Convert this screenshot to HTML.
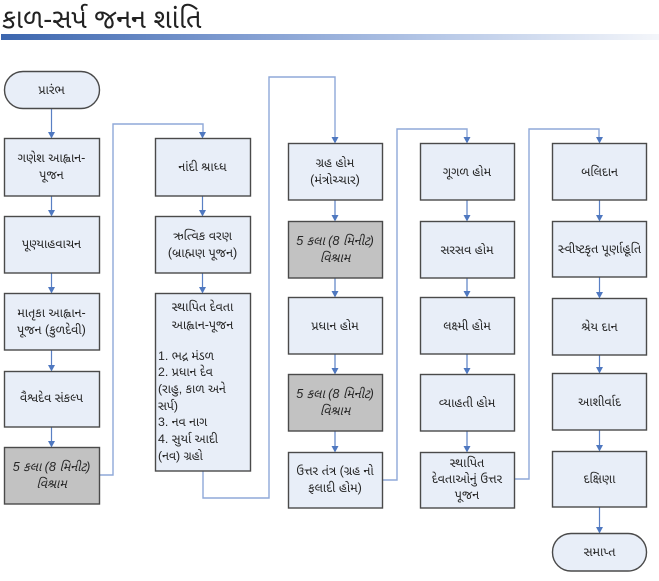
<!DOCTYPE html>
<html>
<head>
<meta charset="utf-8">
<style>
html,body{margin:0;padding:0;background:#fff;}
body{width:659px;height:581px;overflow:hidden;}
svg{display:block;}
text{font-family:"Liberation Sans","Noto Sans Gujarati","Lohit Gujarati","Shruti",sans-serif;fill:#262626;}
.t{font-size:12.6px;text-anchor:middle;dominant-baseline:central;}
.l{font-size:12.4px;dominant-baseline:central;}
.i{font-style:italic;}
.box{fill:#e8eef8;stroke:#4a4a4a;stroke-width:1.4;}
.g{fill:#c2c2c2;stroke:#4a4a4a;stroke-width:1.4;}
.c{fill:none;stroke:#5a80c4;stroke-width:1.2;}
.lp{fill:none;stroke:#8fa9d8;stroke-width:1.4;}
.ah{fill:#4f78c0;}
</style>
</head>
<body>
<svg width="659" height="581" viewBox="0 0 659 581" xmlns="http://www.w3.org/2000/svg">
<defs>
<linearGradient id="bar" x1="0" y1="0" x2="1" y2="0">
<stop offset="0" stop-color="#3c66ae"/>
<stop offset="0.35" stop-color="#7e9bd0"/>
<stop offset="0.65" stop-color="#b4c6e6"/>
<stop offset="1" stop-color="#f4f6fa"/>
</linearGradient>
</defs>

<!-- title -->
<text x="2" y="28" style="font-size:27px;fill:#222;">કાળ-સર્પ જનન શાંતિ</text>
<rect x="1" y="34" width="658" height="6" fill="url(#bar)"/>

<!-- loop connectors -->
<polyline class="lp" points="99,475 113,475 113,124 203,124 203,132"/>
<polyline class="lp" points="203,471 203,498 269,498 269,77 335,77 335,137"/>
<polyline class="lp" points="382,480 397,480 397,129 467,129 467,137"/>
<polyline class="lp" points="514,479 529,479 529,129 599,129 599,137"/>

<!-- vertical connectors -->
<g class="c">
<line x1="51.5" y1="108" x2="51.5" y2="133"/>
<line x1="51.5" y1="196" x2="51.5" y2="211"/>
<line x1="51.5" y1="273" x2="51.5" y2="288"/>
<line x1="51.5" y1="350" x2="51.5" y2="366"/>
<line x1="51.5" y1="427" x2="51.5" y2="442"/>
<line x1="202.5" y1="196" x2="202.5" y2="211"/>
<line x1="202.5" y1="273" x2="202.5" y2="288"/>
<line x1="335" y1="200" x2="335" y2="216"/>
<line x1="335" y1="278" x2="335" y2="292"/>
<line x1="335" y1="354" x2="335" y2="369"/>
<line x1="335" y1="431" x2="335" y2="447"/>
<line x1="467" y1="200" x2="467" y2="216"/>
<line x1="467" y1="278" x2="467" y2="292"/>
<line x1="467" y1="354" x2="467" y2="369"/>
<line x1="467" y1="431" x2="467" y2="447"/>
<line x1="599.5" y1="200" x2="599.5" y2="216"/>
<line x1="599.5" y1="277" x2="599.5" y2="293"/>
<line x1="599.5" y1="355" x2="599.5" y2="368"/>
<line x1="599.5" y1="430" x2="599.5" y2="446"/>
<line x1="599.5" y1="507" x2="599.5" y2="528"/>
</g>

<!-- arrowheads -->
<g class="ah">
<polygon points="48,132 55,132 51.5,138.5"/>
<polygon points="48,210 55,210 51.5,216.5"/>
<polygon points="48,287 55,287 51.5,293.5"/>
<polygon points="48,365 55,365 51.5,371.5"/>
<polygon points="48,441 55,441 51.5,447.5"/>
<polygon points="199,132 206,132 202.5,138.5"/>
<polygon points="199,210 206,210 202.5,216.5"/>
<polygon points="199,287 206,287 202.5,293.5"/>
<polygon points="331.5,137 338.5,137 335,143.5"/>
<polygon points="331.5,215 338.5,215 335,221.5"/>
<polygon points="331.5,291 338.5,291 335,297.5"/>
<polygon points="331.5,368 338.5,368 335,374.5"/>
<polygon points="331.5,446 338.5,446 335,452.5"/>
<polygon points="463.5,137 470.5,137 467,143.5"/>
<polygon points="463.5,215 470.5,215 467,221.5"/>
<polygon points="463.5,291 470.5,291 467,297.5"/>
<polygon points="463.5,368 470.5,368 467,374.5"/>
<polygon points="463.5,446 470.5,446 467,452.5"/>
<polygon points="596,137 603,137 599.5,143.5"/>
<polygon points="596,215 603,215 599.5,221.5"/>
<polygon points="596,292 603,292 599.5,298.5"/>
<polygon points="596,367 603,367 599.5,373.5"/>
<polygon points="596,445 603,445 599.5,451.5"/>
<polygon points="596,527 603,527 599.5,533.5"/>
</g>

<!-- Column 1 -->
<rect class="box" x="4.5" y="71.5" width="95" height="37" rx="18.5" ry="18.5"/>
<text class="t" x="51.5" y="90">પ્રારંભ</text>

<rect class="box" x="4.5" y="138.5" width="95" height="57.5"/>
<text class="t" x="51.5" y="158">ગણેશ આહ્વાન-</text>
<text class="t" x="51.5" y="175">પૂજન</text>

<rect class="box" x="4.5" y="216.5" width="95" height="56.5"/>
<text class="t" x="51.5" y="244">પૂણ્યાહવાચન</text>

<rect class="box" x="4.5" y="293.5" width="95" height="56.5"/>
<text class="t" x="51.5" y="313">માતૃકા આહ્વાન-</text>
<text class="t" x="51.5" y="330">પૂજન (કુળદેવી)</text>

<rect class="box" x="4.5" y="371.5" width="95" height="55.5"/>
<text class="t" x="51.5" y="398">વૈશ્વદેવ સંકલ્પ</text>

<rect class="g" x="4.5" y="447.5" width="95" height="56.5"/>
<text class="t i" x="51.5" y="467">5 કલા (8 મિનીટ)</text>
<text class="t i" x="51.5" y="484">વિશ્રામ</text>

<!-- Column 2 -->
<rect class="box" x="155.5" y="138.5" width="95" height="57.5"/>
<text class="t" x="202.5" y="167">નાંદી શ્રાધ્ધ</text>

<rect class="box" x="155.5" y="216.5" width="95" height="56.5"/>
<text class="t" x="202.5" y="236">ઋત્વિક વરણ</text>
<text class="t" x="202.5" y="253">(બ્રાહ્મણ પૂજન)</text>

<rect class="box" x="155.5" y="293.5" width="95" height="177.5"/>
<text class="t" x="202.5" y="307">સ્થાપિત દેવતા</text>
<text class="t" x="202.5" y="325">આહ્વાન-પૂજન</text>
<text class="l" x="158" y="356">1. ભદ્ર મંડળ</text>
<text class="l" x="158" y="372">2. પ્રધાન દેવ</text>
<text class="l" x="158" y="389">(રાહુ, કાળ અને</text>
<text class="l" x="158" y="406">સર્પ)</text>
<text class="l" x="158" y="422">3. નવ નાગ</text>
<text class="l" x="158" y="439">4. સુર્યા આદી</text>
<text class="l" x="158" y="456">(નવ) ગ્રહો</text>

<!-- Column 3 -->
<rect class="box" x="288.5" y="143.5" width="94" height="56.5"/>
<text class="t" x="335" y="163">ગ્રહ હોમ</text>
<text class="t" x="335" y="180">(મંત્રોચ્ચાર)</text>

<rect class="g" x="288.5" y="221.5" width="94" height="56.5"/>
<text class="t i" x="335" y="241">5 કલા (8 મિનીટ)</text>
<text class="t i" x="335" y="258">વિશ્રામ</text>

<rect class="box" x="288.5" y="297.5" width="94" height="56.5"/>
<text class="t" x="335" y="326">પ્રધાન હોમ</text>

<rect class="g" x="288.5" y="374.5" width="94" height="56.5"/>
<text class="t i" x="335" y="394">5 કલા (8 મિનીટ)</text>
<text class="t i" x="335" y="411">વિશ્રામ</text>

<rect class="box" x="288.5" y="452.5" width="94" height="55.5"/>
<text class="t" x="335" y="471">ઉત્તર તંત્ર (ગ્રહ નો</text>
<text class="t" x="335" y="488">ફલાદી હોમ)</text>

<!-- Column 4 -->
<rect class="box" x="420.5" y="143.5" width="94" height="56.5"/>
<text class="t" x="467" y="172">ગૂગળ હોમ</text>

<rect class="box" x="420.5" y="221.5" width="94" height="56.5"/>
<text class="t" x="467" y="250">સરસવ હોમ</text>

<rect class="box" x="420.5" y="297.5" width="94" height="56.5"/>
<text class="t" x="467" y="326">લક્ષ્મી હોમ</text>

<rect class="box" x="420.5" y="374.5" width="94" height="56.5"/>
<text class="t" x="467" y="403">વ્યાહતી હોમ</text>

<rect class="box" x="420.5" y="452.5" width="94" height="55.5"/>
<text class="t" x="467" y="463">સ્થાપિત</text>
<text class="t" x="467" y="479">દેવતાઓનું ઉત્તર</text>
<text class="t" x="467" y="495">પૂજન</text>

<!-- Column 5 -->
<rect class="box" x="552.5" y="143.5" width="94" height="56.5"/>
<text class="t" x="599.5" y="172">બલિદાન</text>

<rect class="box" x="552.5" y="221.5" width="94" height="55.5"/>
<text class="t" x="599.5" y="249">સ્વીષ્ટકૃત પૂર્ણાહૂતિ</text>

<rect class="box" x="552.5" y="298.5" width="94" height="56.5"/>
<text class="t" x="599.5" y="327">શ્રેય દાન</text>

<rect class="box" x="552.5" y="373.5" width="94" height="56.5"/>
<text class="t" x="599.5" y="402">આશીર્વાદ</text>

<rect class="box" x="552.5" y="451.5" width="94" height="55.5"/>
<text class="t" x="599.5" y="479">દક્ષિણા</text>

<rect class="box" x="552.5" y="533.5" width="94" height="37.5" rx="18.5" ry="18.5"/>
<text class="t" x="599.5" y="552">સમાપ્ત</text>
</svg>
</body>
</html>
